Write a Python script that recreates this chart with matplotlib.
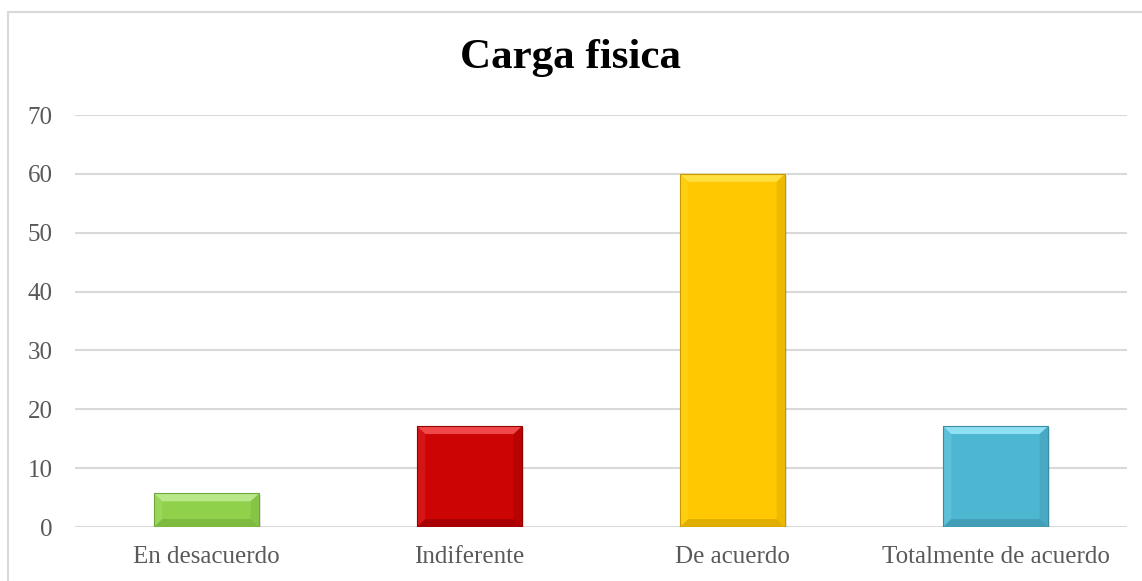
import matplotlib
matplotlib.use("Agg")
import matplotlib.pyplot as plt
from matplotlib.patches import Polygon, Rectangle

# ---------------- datos ----------------
categorias = ["En desacuerdo", "Indiferente", "De acuerdo", "Totalmente de acuerdo"]
valores = [5.71, 17.14, 60.0, 17.14]
colores = ["#8FD14B", "#CC0404", "#FFC800", "#4DB6D1"]
claros = ["#B8E88A", "#F04848", "#FFE040", "#8EE0F2"]
oscuros = ["#6FA838", "#8E0202", "#C89A00", "#3A8CA2"]
yticks = [0, 10, 20, 30, 40, 50, 60, 70]
titulo = "Carga fisica"

plt.rcParams["font.family"] = ["Liberation Serif", "DejaVu Serif"]

fig = plt.figure(figsize=(11.42, 5.81), dpi=100)
ax = fig.add_axes([75 / 1142, 1 - 527 / 581, 1052 / 1142, 412 / 581])

# borde del gráfico
fig.patches.append(Rectangle((8 / 1142, -0.1), 1.2, 1 - 12 / 581 + 0.1,
                             transform=fig.transFigure, fill=False,
                             edgecolor="#D9D9D9", linewidth=1.5))

ancho = 0.40
xs = list(range(len(categorias)))
ax.bar(xs, valores, width=ancho, color=colores, zorder=3)

# efecto bisel (en unidades de datos)
bx, by = 0.032, 1.35
for x, v, c, cl, os_ in zip(xs, valores, colores, claros, oscuros):
    l, r = x - ancho / 2, x + ancho / 2
    byy = min(by, v / 3)
    # sombra
    ax.add_patch(Rectangle((l + 0.006, -0.35), ancho, v, color="#000000",
                           alpha=0.10, zorder=2, linewidth=0))
    ax.add_patch(Polygon([(l, v), (r, v), (r - bx, v - byy), (l + bx, v - byy)],
                         closed=True, color=cl, zorder=4, linewidth=0))
    ax.add_patch(Polygon([(l, 0), (r, 0), (r - bx, byy), (l + bx, byy)],
                         closed=True, color=os_, zorder=4, linewidth=0, alpha=0.55))
    ax.add_patch(Polygon([(r, 0), (r, v), (r - bx, v - byy), (r - bx, byy)],
                         closed=True, color=os_, zorder=4, linewidth=0, alpha=0.3))
    ax.add_patch(Polygon([(l, 0), (l, v), (l + bx, v - byy), (l + bx, byy)],
                         closed=True, color=cl, zorder=4, linewidth=0, alpha=0.25))
    ax.add_patch(Rectangle((l, 0), ancho, v, fill=False, edgecolor=os_,
                           linewidth=0.8, zorder=5))

ax.set_xlim(-0.5, len(categorias) - 0.5)
ax.set_ylim(0, 70)
ax.set_yticks(yticks)
ax.set_xticks(xs)
ax.set_xticklabels(categorias)
ax.yaxis.grid(True, color="#D9D9D9", linewidth=1.5, zorder=0)
ax.set_axisbelow(True)
for s in ax.spines.values():
    s.set_visible(False)
ax.tick_params(axis="both", length=0, labelsize=18, labelcolor="#595959")
ax.tick_params(axis="y", pad=16)
ax.tick_params(axis="x", pad=14)

fig.text(0.5, 1 - 58 / 581, titulo, ha="center", va="center",
         fontsize=31, fontweight="bold", color="#000000")

fig.savefig("out.png", dpi=100)
